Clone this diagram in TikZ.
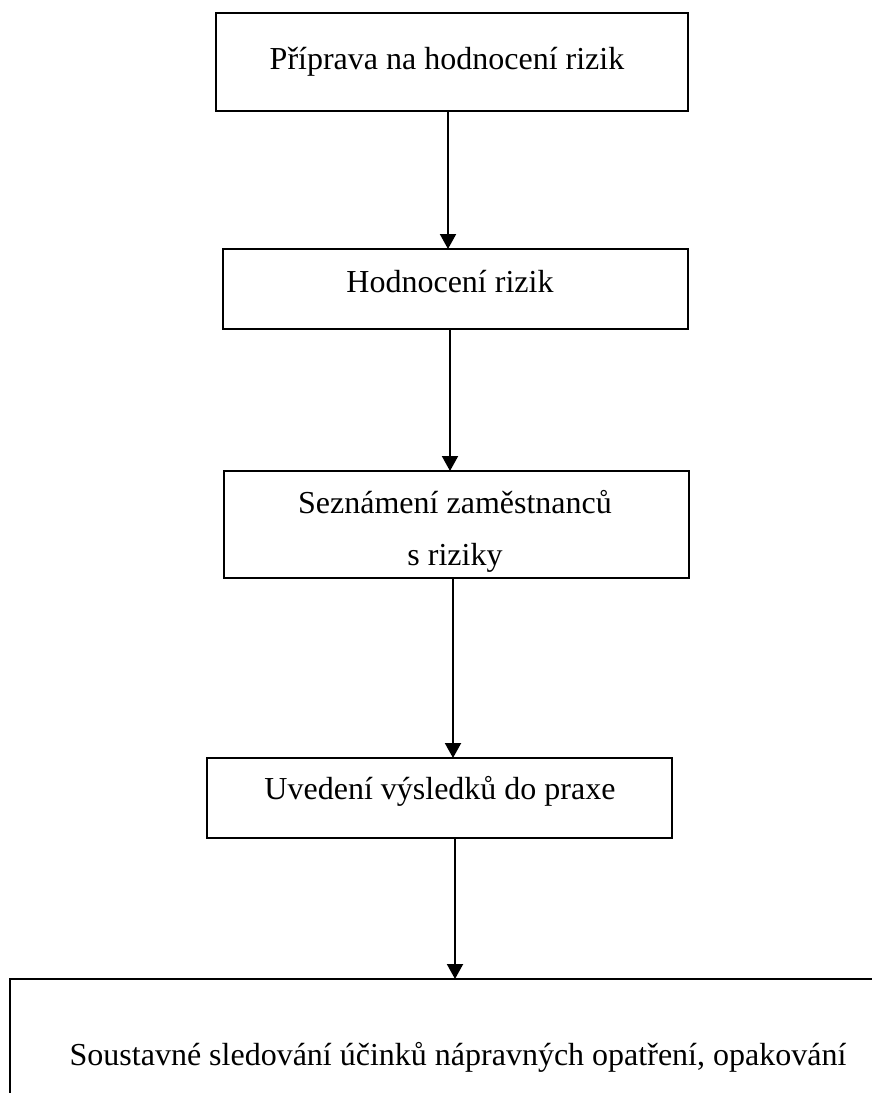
\documentclass[tikz,border=0pt]{standalone}
\usepackage{fontspec}
\setmainfont{Liberation Serif}
\usetikzlibrary{arrows.meta}
\begin{document}
\begin{tikzpicture}[x=1pt,y=-1pt,
  box/.style={draw=black,line width=2.4pt,fill=none},
  lbl/.style={font=\fontsize{32}{52}\selectfont,inner sep=0pt,align=center},
  arr/.style={line width=2pt,-{Triangle[width=16pt,length=15pt]}}]
\clip (0,0) rectangle (872,1093);
\fill[white] (0,0) rectangle (872,1093);
% boxes
\draw[box] (216,13) rectangle (688,111);
\node[lbl] (t1) at (447,62) {Příprava na hodnocení rizik};
\coordinate (b1s) at (448,111);
\draw[box] (223,249) rectangle (688,329);
\node[lbl] (t2) at (450,282) {Hodnocení rizik};
\coordinate (b2n) at (448,249);
\coordinate (b2s) at (450,329);
\draw[box] (224,471) rectangle (689,578);
\node[lbl] (t3) at (455,531) {Seznámení zaměstnanců\\s riziky};
\coordinate (b3n) at (450,471);
\coordinate (b3s) at (453,578);
\draw[box] (207,758) rectangle (672,838);
\node[lbl] (t4) at (440,791) {Uvedení výsledků do praxe};
\coordinate (b4n) at (453,758);
\coordinate (b4s) at (455,838);
\draw[box] (10,979) rectangle (900,1200);
\node[lbl] (t5) at (458,1057) {Soustavné sledování účinků nápravných opatření, opakování};
\coordinate (b5n) at (455,979);
% arrows
\draw[arr] (b1s) -- (b2n);
\draw[arr] (b2s) -- (b3n);
\draw[arr] (b3s) -- (b4n);
\draw[arr] (b4s) -- (b5n);
\end{tikzpicture}
\end{document}
